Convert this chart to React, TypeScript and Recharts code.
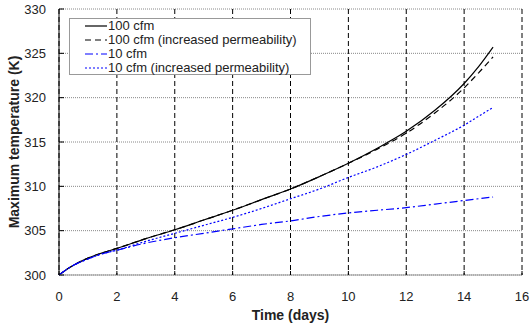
import * as React from "react"
import { CartesianGrid, Label, Line, LineChart, XAxis, YAxis } from "recharts"

// Maximum temperature vs time, four ventilation cases

const days = [0, 0.25, 0.5, 1, 1.5, 2, 3, 4, 5, 6, 7, 8, 9, 10, 11, 12, 13, 14, 14.5, 15]
const cfm100 = [300, 300.6, 301.1, 301.9, 302.5, 303.0, 304.1, 305.1, 306.2, 307.3, 308.5, 309.7, 311.1, 312.6, 314.3, 316.2, 318.6, 321.6, 323.5, 325.7]
const cfm100Perm = [300, 300.6, 301.1, 301.9, 302.5, 303.0, 304.1, 305.1, 306.2, 307.3, 308.5, 309.7, 311.1, 312.6, 314.2, 316.0, 318.3, 321.1, 322.8, 324.6]
const cfm10 = [300, 300.6, 301.1, 301.8, 302.4, 302.8, 303.6, 304.2, 304.7, 305.2, 305.7, 306.1, 306.6, 307.0, 307.3, 307.6, 308.0, 308.4, 308.6, 308.8]
const cfm10Perm = [300, 300.6, 301.1, 301.8, 302.4, 302.8, 303.8, 304.7, 305.6, 306.5, 307.5, 308.6, 309.7, 311.0, 312.2, 313.6, 315.2, 316.9, 317.9, 318.9]

const xTicks = [0, 2, 4, 6, 8, 10, 12, 14, 16]
const yTicks = [300, 305, 310, 315, 320, 325, 330]

const series = [
  { key: "a", name: "100 cfm", color: "#000", dash: undefined as string | undefined },
  { key: "b", name: "100 cfm (increased permeability)", color: "#000", dash: "6 4" },
  { key: "c", name: "10 cfm", color: "#0000ff", dash: "8 3 2 3" },
  { key: "d", name: "10 cfm (increased permeability)", color: "#0000ff", dash: "2 2" },
]

const data = days.map((d, i) => ({
  day: d,
  a: cfm100[i],
  b: cfm100Perm[i],
  c: cfm10[i],
  d: cfm10Perm[i],
}))

const FONT = "'Liberation Sans', Arial, sans-serif"

function YTick({ x, y, payload }: any) {
  return (
    <g>
      <line x1={x} x2={x + 5} y1={y} y2={y} stroke="#000" />
      <text x={x - 13} y={y + 4.7} textAnchor="end" fontSize={13} fill="#222" fontFamily={FONT}>
        {payload.value}
      </text>
    </g>
  )
}

function XTick({ x, y, payload }: any) {
  return (
    <g>
      <line x1={x} x2={x} y1={y} y2={y - 4} stroke="#000" />
      <text x={x} y={y + 26.4} textAnchor="middle" fontSize={13} fill="#222" fontFamily={FONT}>
        {payload.value}
      </text>
    </g>
  )
}

function LegendBox() {
  return (
    <div
      style={{
        position: "absolute",
        left: 69,
        top: 18,
        width: 242,
        height: 57,
        border: "1px solid #999",
        background: "#fff",
        fontFamily: FONT,
        fontSize: 13,
        color: "#222",
        boxSizing: "border-box",
      }}
    >
      {series.map((s) => (
        <div key={s.key} style={{ height: 14, display: "flex", alignItems: "center" }}>
          <svg width={38} height={14} style={{ flexShrink: 0 }}>
            <line x1={15} x2={37} y1={7} y2={7} stroke={s.color} strokeWidth={1.2} strokeDasharray={s.dash} />
          </svg>
          <span style={{ lineHeight: "14px", whiteSpace: "nowrap" }}>{s.name}</span>
        </div>
      ))}
    </div>
  )
}

export default function App() {
  return (
    <div style={{ position: "absolute", left: 0, top: 0, width: 531, height: 327 }}>
      <LineChart width={531} height={327} data={data} margin={{ top: 9, right: 9, left: 0, bottom: 0 }}>
        <CartesianGrid horizontal={true} vertical={false} stroke="#888" strokeDasharray="1 1" />
        <CartesianGrid horizontal={false} vertical={true} stroke="#000" strokeDasharray="5 3" />
        <XAxis
          dataKey="day"
          type="number"
          domain={[0, 16]}
          ticks={xTicks}
          height={52}
          tickSize={0}
          tickMargin={0}
          tickLine={false}
          stroke="#999"
          tick={<XTick />}
          interval={0}
        >
          <Label
            content={({ viewBox }: any) => (
              <text
                x={viewBox.x + viewBox.width / 2}
                y={viewBox.y + 44.5}
                textAnchor="middle"
                fontSize={14}
                fontWeight="bold"
                fill="#222"
                fontFamily={FONT}
              >
                Time (days)
              </text>
            )}
          />
        </XAxis>
        <YAxis
          type="number"
          domain={[300, 330]}
          ticks={yTicks}
          width={59}
          tickSize={0}
          tickMargin={0}
          tickLine={false}
          stroke="#000"
          tick={<YTick />}
          interval={0}
        >
          <Label
            content={({ viewBox }: any) => {
              const cx = viewBox.x + 14
              const cy = viewBox.y + viewBox.height / 2
              return (
                <text
                  x={cx}
                  y={cy}
                  transform={`rotate(-90 ${cx} ${cy})`}
                  textAnchor="middle"
                  dominantBaseline="central"
                  fontSize={14}
                  fontWeight="bold"
                  fill="#222"
                  fontFamily={FONT}
                >
                  Maximum temperature (K)
                </text>
              )
            }}
          />
        </YAxis>
        {series.map((s) => (
          <Line
            key={s.key}
            dataKey={s.key}
            name={s.name}
            type="monotone"
            stroke={s.color}
            strokeWidth={1.2}
            strokeDasharray={s.dash}
            dot={false}
            activeDot={false}
            isAnimationActive={false}
          />
        ))}
      </LineChart>
      <LegendBox />
    </div>
  )
}
